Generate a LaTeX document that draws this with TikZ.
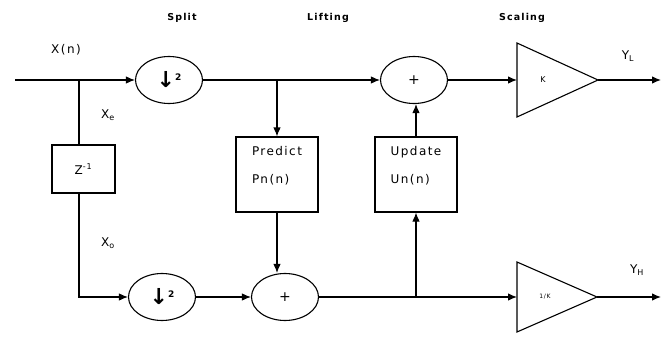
\documentclass[tikz,border=0pt]{standalone}
\usepackage{fontspec}
\setmainfont{DejaVu Sans}[LetterSpace=12]
\usetikzlibrary{arrows.meta,shapes.geometric}

\newcommand{\dnsample}{{\bfseries\fontsize{22}{22}\selectfont ↓}\raisebox{7pt}{\bfseries\fontsize{9}{9}\selectfont 2}}

\begin{document}
\begin{tikzpicture}[x=1pt,y=-1pt,line width=1.1pt,
  oval/.style={draw,ellipse,minimum width=67pt,minimum height=47pt,inner sep=0pt,font=\fontsize{12}{12}\selectfont},
  box/.style={draw,inner sep=0pt,font=\fontsize{12}{14}\selectfont},
  edge/.style={-{Latex[length=9pt,width=7.5pt]}},
  lab/.style={font=\fontsize{12}{14}\selectfont,inner sep=0pt},
  head/.style={font=\bfseries\fontsize{9.5}{11}\selectfont,inner sep=0pt},
  gain/.style={font=\fontsize{8}{9}\selectfont,inner sep=0pt}]
\useasboundingbox (0,0) rectangle (667,337);
% stage titles
\node[head] (splithd) at (182,18) {Split};
\node[head] (lifthd) at (328,18) {Lifting};
\node[head] (scalehd) at (522,18) {Scaling};
% upper path
\coordinate (xin) at (15,80);
\coordinate (tapx) at (79,80);
\coordinate (tapp) at (277,80);
\node[oval] (down1) at (169,80) {\dnsample};
\node[oval,font=\fontsize{14}{14}\selectfont] (add1) at (414,80) {+};
\coordinate (kin) at (517,80);
\coordinate (kout) at (598,80);
\coordinate (ylout) at (661,80);
\draw (517,43) -- (kout) -- (517,117) -- cycle;
\node[gain] (kgain) at (543,80) {K};
% lifting boxes
\node[box,minimum width=63pt,minimum height=48pt] (zdelay) at (83.5,169) {Z\textsuperscript{-1}};
\node[box,minimum width=82pt,minimum height=75pt] (predict) at (277,174.5) {};
\node[lab,align=left] (predtxt) at (277,166) {Predict\\[14pt]Pn(n)};
\node[box,minimum width=82pt,minimum height=75pt] (update) at (416,174.5) {};
\node[lab,align=left] (updtxt) at (416,166) {Update\\[14pt]Un(n)};
% lower path
\node[oval] (down2) at (162,297) {\dnsample};
\node[oval,font=\fontsize{14}{14}\selectfont] (add2) at (285,297) {+};
\coordinate (tapu) at (416,297);
\coordinate (hin) at (517,297);
\coordinate (hout) at (597,297);
\coordinate (yhout) at (661,297);
\draw (517,262) -- (hout) -- (517,332) -- cycle;
\node[gain,font=\fontsize{6}{7}\selectfont] (hgain) at (545,297) {1/K};
% signal labels
\node[lab] (xlab) at (66,50) {X(n)};
\node[lab] (xelab) at (108,115) {X\textsubscript{e}};
\node[lab] (xolab) at (108,243) {X\textsubscript{o}};
\node[lab] (yllab) at (628,56) {Y\textsubscript{L}};
\node[lab] (yhlab) at (637,270) {Y\textsubscript{H}};
% connections
\draw[edge] (xin) -- (down1);
\draw (tapx) -- (tapx |- zdelay.north);
\draw[edge] (zdelay.south -| tapx) |- (down2);
\draw[edge] (down1) -- (add1);
\draw[edge] (tapp) -- (predict);
\draw[edge] (add1) -- (kin);
\draw[edge] (kout) -- (ylout);
\draw[edge] (down2) -- (add2);
\draw[edge] (predict) -- (predict |- add2.north);
\draw[edge] (add2) -- (hin);
\draw[edge] (tapu) -- (update);
\draw[edge] (update) -- (update |- add1.south);
\draw[edge] (hout) -- (yhout);
\end{tikzpicture}
\end{document}
